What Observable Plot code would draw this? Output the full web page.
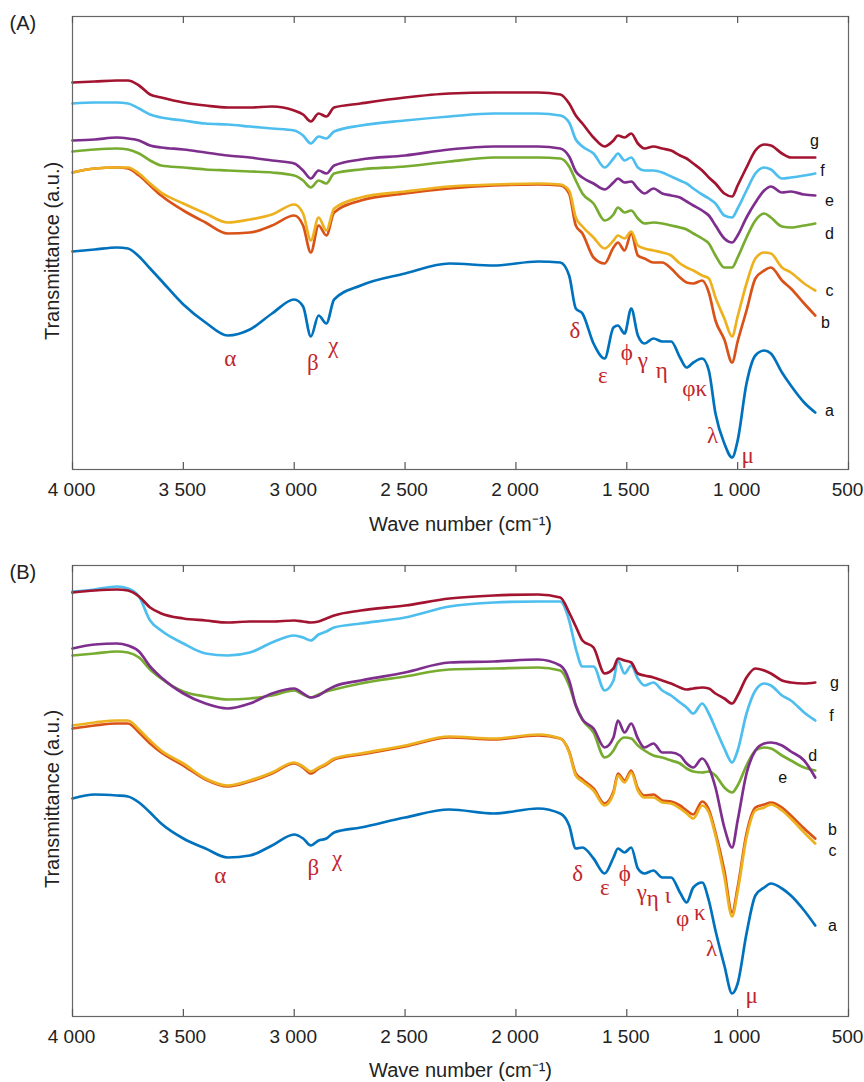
<!DOCTYPE html>
<html><head><meta charset="utf-8">
<script src="https://cdn.jsdelivr.net/npm/d3@7"></script>
<script src="https://cdn.jsdelivr.net/npm/@observablehq/plot@0.6"></script>
<style>
html,body{margin:0;padding:0;background:#fff;}
#chart svg{display:block;}
</style></head><body><div id="chart"></div>
<script>
const wavenumbers = [4000,3900,3800,3750,3700,3650,3600,3500,3400,3300,3200,3100,3000,2960,2925,2890,2855,2820,2700,2500,2300,2100,1900,1800,1760,1730,1700,1650,1600,1560,1540,1510,1480,1450,1420,1380,1340,1300,1260,1230,1200,1160,1130,1100,1060,1025,1000,960,920,880,850,800,760,700,650];
const seriesNames = ["a","b","c","d","e","f","g"];
const colors = ["#0072BD","#D95319","#EDB120","#77AC30","#7E2F8E","#4DBEEE","#A2142F"];
const xTicks = [4000,3500,3000,2500,2000,1500,1000,500];

// Panel (A) transmittance, arbitrary units
const A_a = [218,220,222,221,213,201,189,165,147,134,140,156,170,163,133,154,146,170,184,196,206,204,208,207,194,161,156,126,111,142,144,136,161,134,126,131,128,128,112,102,107,111,99,56,26,12,29,86,114,119,116,97,84,67,57];
const A_b = [297,301,302,301,294,284,274,259,247,236,237,244,254,244,217,244,234,257,269,276,281,284,285,284,276,244,236,212,206,222,227,219,236,214,211,207,207,201,192,187,186,189,177,149,130,107,128,159,191,199,202,189,181,166,154];
const A_c = [297,301,302,302,296,286,277,266,256,247,250,255,265,256,229,252,239,261,272,278,283,285,286,285,279,252,243,232,221,229,234,231,238,224,221,219,217,214,206,202,199,194,191,172,151,133,153,186,211,217,216,202,197,186,179];
const A_d = [318,320,321,320,316,309,304,302,300,299,298,297,294,289,282,289,286,296,300,303,308,312,312,311,303,289,276,266,249,255,262,257,259,251,246,247,246,244,242,240,236,231,226,214,202,202,212,232,249,256,252,243,242,244,246];
const A_e = [329,330,332,331,329,324,322,320,317,314,312,309,306,299,291,299,296,304,310,314,320,323,323,321,313,298,292,286,280,287,291,287,288,281,276,281,276,274,272,268,264,259,254,244,231,227,234,252,267,279,283,277,278,275,274];
const A_f = [366,367,367,366,361,355,352,349,346,345,343,341,339,334,326,333,331,338,344,349,353,356,356,354,347,330,323,316,302,311,316,309,312,302,299,299,297,293,289,286,281,275,271,266,254,252,261,279,296,302,300,291,292,294,296];
const A_g = [387,388,389,389,384,375,372,367,364,362,362,363,359,355,348,356,353,362,366,372,376,377,377,375,366,354,346,332,323,329,334,332,336,326,321,323,321,319,314,311,306,299,292,286,276,273,284,302,319,325,324,316,312,312,312];

// Panel (B) transmittance, arbitrary units
const B_a = [218,222,221,220,214,204,193,178,168,159,161,171,182,178,171,176,178,184,189,199,207,203,208,203,191,168,169,158,143,159,168,164,169,148,143,146,139,139,124,114,129,134,116,86,51,23,33,83,121,129,133,128,121,106,91];
const B_b = [288,291,293,293,284,273,264,251,237,230,235,243,253,249,243,248,252,257,262,270,279,277,281,278,265,243,237,228,213,225,243,236,246,228,221,222,216,215,211,206,202,215,207,184,146,104,129,183,209,212,214,209,201,188,178];
const B_c = [291,294,296,296,287,276,266,253,238,231,236,244,254,250,245,249,253,258,263,271,280,278,282,278,264,241,235,226,211,223,241,234,244,226,219,219,214,213,208,203,198,211,204,181,140,100,125,179,206,209,212,206,198,184,173];
const B_d = [361,363,365,364,359,347,338,325,320,317,318,321,326,322,319,322,325,327,333,340,347,348,349,346,331,311,297,284,259,266,274,279,278,271,266,261,259,256,253,248,245,244,245,241,229,224,231,251,266,269,268,261,256,249,246];
const B_e = [368,372,373,371,365,350,339,323,313,308,313,323,328,323,319,321,326,330,336,344,354,355,357,351,336,311,297,288,269,279,296,284,293,278,269,273,264,264,261,253,249,258,249,229,189,169,196,243,266,273,274,271,265,256,239];
const B_f = [425,427,430,428,420,396,386,373,363,361,364,374,381,379,376,382,385,389,393,399,410,414,415,415,396,368,350,350,326,336,356,343,351,338,331,334,326,321,314,309,303,313,303,288,268,254,266,303,326,333,331,321,316,304,296];
const B_g = [424,426,427,426,420,409,403,398,396,394,395,395,396,395,394,395,398,401,406,411,418,421,422,419,404,390,376,369,343,348,358,356,354,343,341,339,336,333,329,327,328,329,328,323,318,313,321,339,348,346,343,336,334,333,334];

// Curve labels
const A_labels = ["g","f","e","d","c","b","a"];
const A_labelWn = [653,617,586,586,586,604,586];
const A_labelT = [329,299,269,236,179,147,59];
const B_labels = ["g","f","d","e","b","c","a"];
const B_labelWn = [563,577,662,797,572,572,572];
const B_labelT = [334,301,261,239,187,166,91];

// Band annotations
const A_peaks = ["α","β","χ","δ","ε","ϕ","γ","η","φκ","λ","μ"];
const A_peakWn = [3288,2916,2824,1734,1608,1500,1428,1342,1194,1113,955];
const A_peakT = [111,107,124,139,94,117,109,99,81,34,14];
const B_peaks = ["α","β","χ","δ","ε","ϕ","γ","η","ι","φ","κ","λ","μ"];
const B_peakWn = [3333,2914,2806,1721,1599,1509,1432,1383,1315,1248,1171,1117,937];
const B_peakT = [141,149,158,143,129,143,124,118,121,98,104,68,21];

const fmt = d => d >= 1000 ? `${Math.floor(d / 1000)} ${String(d % 1000).padStart(3, "0")}` : String(d);

function panel(p) {
  const rows = [];
  seriesNames.forEach((s, i) => p.series[i].forEach((t, j) => rows.push({s, wn: wavenumbers[j], t})));
  const labelRows = p.labels.map((l, i) => ({l, wn: p.labelWn[i], t: p.labelT[i]}));
  const peakRows = p.peaks.map((l, i) => ({l, wn: p.peakWn[i], t: p.peakT[i]}));
  return Plot.plot({
    width: 864, height: 541,
    marginLeft: 72, marginRight: 16, marginTop: p.mt, marginBottom: p.mb,
    style: {fontFamily: "'Liberation Sans', Arial, sans-serif", background: "#fff", color: "#222", overflow: "visible"},
    x: {domain: [4000, 500]},
    y: {domain: [0, p.yTop], axis: null},
    color: {domain: seriesNames, range: colors},
    marks: [
      Plot.line(rows, {x: "wn", y: "t", z: "s", stroke: "s", strokeWidth: 2.7, curve: "monotone-x", strokeLinejoin: "round"}),
      Plot.frame({stroke: "#666", strokeWidth: 1.2}),
      Plot.ruleX(xTicks, {y1: 0, y2: 7, stroke: "#555", strokeWidth: 1.2}),
      Plot.ruleX(xTicks, {y1: p.yTop - 7, y2: p.yTop, stroke: "#555", strokeWidth: 1.2}),
      Plot.axisX({ticks: xTicks, tickFormat: fmt, tickSize: 0, tickPadding: 13, fontSize: 19, dx: -1, label: null}),
      Plot.text(labelRows, {x: "wn", y: "t", text: "l", fontSize: 16, fill: "#111"}),
      Plot.text(peakRows, {x: "wn", y: "t", text: "l", fontSize: 23, fill: "#c1272d", fontFamily: "'Liberation Serif', 'DejaVu Serif', serif"}),
      Plot.text(["Wave number (cm⁻¹)"], {text: d => d, frameAnchor: "bottom", textAnchor: "middle", lineAnchor: "middle", dy: p.titleDy, fontSize: 20}),
      Plot.text(["Transmittance (a.u.)"], {text: d => d, frameAnchor: "left", textAnchor: "middle", lineAnchor: "middle", rotate: -90, dx: -20, dy: 8, fontSize: 20}),
      Plot.text([p.tag], {text: d => d, frameAnchor: "top-left", textAnchor: "start", lineAnchor: "middle", dx: -63, dy: 7, fontSize: 20})
    ]
  });
}

const chart = document.getElementById("chart");
chart.append(panel({
  series: [A_a, A_b, A_c, A_d, A_e, A_f, A_g], yTop: 453, mt: 16, mb: 72, titleDy: 55, tag: "(A)",
  labels: A_labels, labelWn: A_labelWn, labelT: A_labelT,
  peaks: A_peaks, peakWn: A_peakWn, peakT: A_peakT
}));
chart.append(panel({
  series: [B_a, B_b, B_c, B_d, B_e, B_f, B_g], yTop: 451, mt: 24, mb: 66, titleDy: 54, tag: "(B)",
  labels: B_labels, labelWn: B_labelWn, labelT: B_labelT,
  peaks: B_peaks, peakWn: B_peakWn, peakT: B_peakT
}));
</script></body></html>
